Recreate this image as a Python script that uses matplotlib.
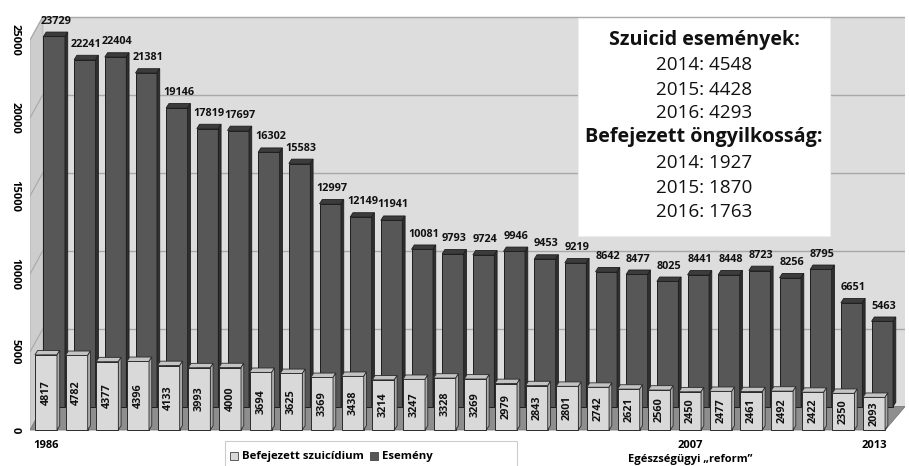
import numpy as np
import matplotlib
matplotlib.use("Agg")
import matplotlib.pyplot as plt
from matplotlib.patches import Polygon, Rectangle, Patch

plt.rcParams['font.family'] = ['Open Sans', 'DejaVu Sans']

# Data
years = list(range(1986, 2014))
esemeny = [23729, 22241, 22404, 21381, 19146, 17819, 17697, 16302, 15583, 12997,
           12149, 11941, 10081, 9793, 9724, 9946, 9453, 9219, 8642, 8477,
           8025, 8441, 8448, 8723, 8256, 8795, 6651, 5463]
befejezett = [4817, 4782, 4377, 4396, 4133, 3993, 4000, 3694, 3625, 3369,
              3438, 3214, 3247, 3328, 3269, 2979, 2843, 2801, 2742, 2621,
              2560, 2450, 2477, 2461, 2492, 2422, 2350, 2093]
y_ticks = [0, 5000, 10000, 15000, 20000, 25000]
x_tick_years = [1986, 2007, 2013]
x_tick_labels = ['1986', '2007\nEgészségügyi \u201ereform\u201d', '2013']
box_lines = [('Szuicid események:', True), ('2014: 4548', False), ('2015: 4428', False),
             ('2016: 4293', False), ('Befejezett öngyilkosság:', True),
             ('2014: 1927', False), ('2015: 1870', False), ('2016: 1763', False)]

light_c, dark_c = '#d9d9d9', '#575757'
x = np.arange(len(years))

# pseudo 3D geometry (data units)
dx_back, dy_back = 0.27, 1500      # back row offset
tdx, tdy = 0.09, 280               # bar depth (top / side faces)
wall_dx = 0.42
xmin, xmax = -0.52, 28.01
ymin, ymax = -385, 26795

fig = plt.figure(figsize=(9.09, 4.66), dpi=100)
ax = fig.add_axes([30 / 909, 30 / 466, 875 / 909, 424 / 466])
ax.set_xlim(xmin, xmax)
ax.set_ylim(ymin, ymax)
ax.set_facecolor('white')
for s in ax.spines.values():
    s.set_visible(False)

# walls and floor
top = 25000 + dy_back
ax.add_patch(Polygon([(xmin + wall_dx, dy_back), (xmax, dy_back), (xmax, top), (xmin + wall_dx, top)],
                     closed=True, fc='#dddddd', ec='none', zorder=0))
ax.add_patch(Polygon([(xmin, 0), (xmin, 25000), (xmin + wall_dx, top), (xmin + wall_dx, dy_back)],
                     closed=True, fc='#cdcdcd', ec='#b0b0b0', lw=0.6, zorder=0))
ax.add_patch(Polygon([(xmin, 0), (xmax - 0.65, 0), (xmax, dy_back), (xmin + wall_dx, dy_back)],
                     closed=True, fc='#8e8e8e', ec='#777777', lw=0.6, zorder=0.5))
for t in y_ticks[1:]:
    ax.plot([xmin + wall_dx, xmax], [t + dy_back] * 2, color='#a8a8a8', lw=1.0, zorder=0.3)
    ax.plot([xmin, xmin + wall_dx], [t, t + dy_back], color='#a8a8a8', lw=0.8, zorder=0.3)


def bar3d(xc, vals, bottom, width, face, topc, sidec, edge, z):
    ax.bar(xc, vals, bottom=bottom, width=width, color=face, edgecolor=edge, lw=0.7, zorder=z)
    for xi, v in zip(xc, vals):
        xl, xr, yt = xi - width / 2, xi + width / 2, bottom + v
        ax.add_patch(Polygon([(xl, yt), (xr, yt), (xr + tdx, yt + tdy), (xl + tdx, yt + tdy)],
                             closed=True, fc=topc, ec=edge, lw=0.6, zorder=z))
        ax.add_patch(Polygon([(xr, bottom), (xr, yt), (xr + tdx, yt + tdy), (xr + tdx, bottom + tdy)],
                             closed=True, fc=sidec, ec=edge, lw=0.6, zorder=z))


bar3d(x + dx_back, esemeny, dy_back, 0.7, dark_c, '#3c3c3c', '#2f2f2f', '#1e1e1e', 2)
bar3d(x, befejezett, 0, 0.72, light_c, '#c4c4c4', '#ababab', '#2a2a2a', 4)

for xi, v in zip(x, esemeny):
    ax.text(xi + dx_back + 0.05, v + dy_back + tdy + 350, f'{v}', ha='center', va='bottom',
            fontsize=7.8, fontweight='bold', color='#111111', zorder=6)
for xi, v in zip(x, befejezett):
    ax.text(xi, v / 2, f'{v}', ha='center', va='center', rotation=90,
            fontsize=7.8, fontweight='bold', color='#111111', zorder=6)

ax.set_yticks(y_ticks)
ax.set_yticklabels([str(t) for t in y_ticks], rotation=270, va='center',
                   fontsize=8, fontweight='bold')
ax.tick_params(axis='y', length=0, pad=7)
ax.set_xticks([years.index(y) for y in x_tick_years])
ax.set_xticklabels(x_tick_labels, fontsize=8, fontweight='bold', linespacing=1.3)
ax.tick_params(axis='x', length=0, pad=3)

# info box
fig.patches.append(Rectangle((578 / 909, 1 - 236 / 466), 252 / 909, 218 / 466,
                             transform=fig.transFigure, fc='white', ec='#eeeeee', lw=0.8, zorder=5))
line_y = [40, 65, 90, 113, 137, 163, 188, 212]
for (txt, bold), yy in zip(box_lines, line_y):
    fig.text(704 / 909, 1 - yy / 466, txt, ha='center', va='center',
             fontsize=14.2 if bold else 13.6,
             fontweight='bold' if bold else 'normal', color='#111111', zorder=6)

# legend with a wider frame like the original
fig.patches.append(Rectangle((225 / 909, -0.01), 292 / 909, 25 / 466 + 0.01,
                             transform=fig.transFigure, fc='white', ec='#cccccc', lw=0.8, zorder=5))
handles = [Patch(fc=light_c, ec='#444444', lw=0.6), Patch(fc=dark_c, ec='#444444', lw=0.6)]
leg = fig.legend(handles, ['Befejezett szuicídium', 'Esemény'], loc='center left',
                 bbox_to_anchor=(228 / 909, 1 - 457 / 466), ncol=2, frameon=False,
                 handlelength=0.7, handleheight=0.7, borderaxespad=0,
                 handletextpad=0.3, columnspacing=0.6, borderpad=0.2,
                 prop={'weight': 'bold', 'size': 8.2})
leg.set_zorder(6)

fig.savefig('out.png', dpi=100)
